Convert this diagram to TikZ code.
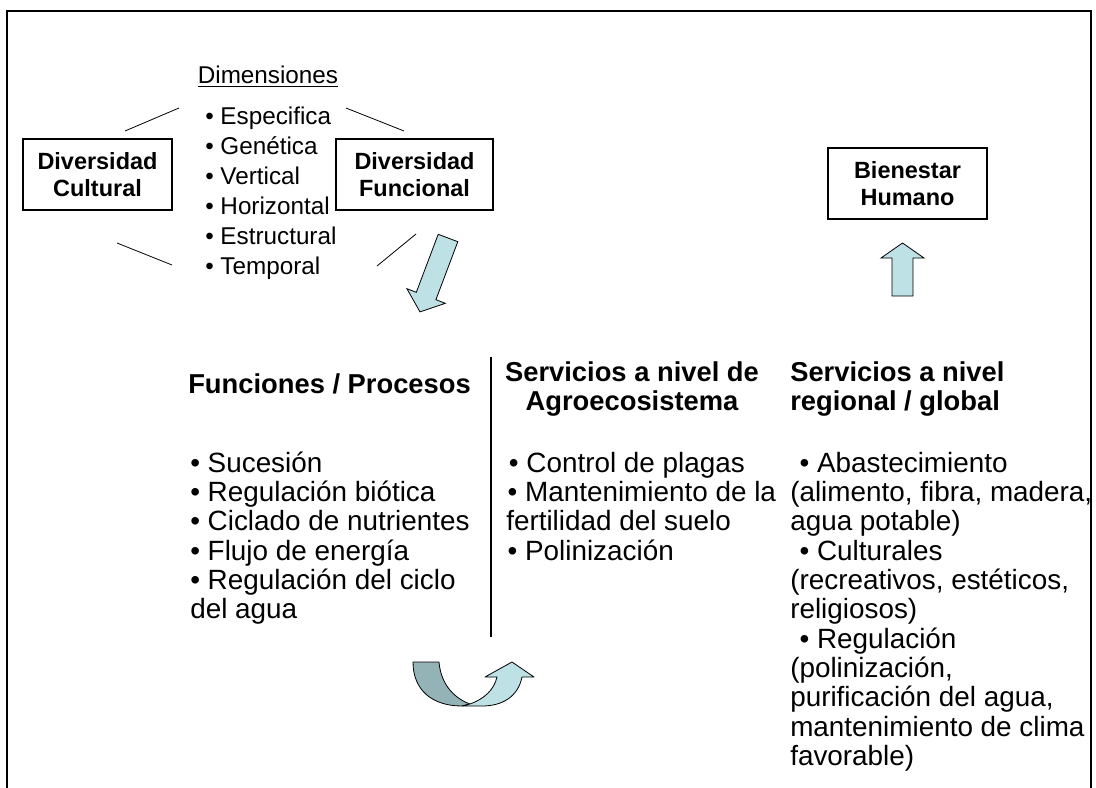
\documentclass[tikz,border=0pt]{standalone}
\usepackage{fontspec}
\setmainfont{Liberation Sans}
\definecolor{arrowlight}{HTML}{BDE1E4}
\definecolor{arrowdark}{HTML}{93B3B7}
\newcommand{\mylines}[2][l]{\begin{tabular}[t]{@{}#1@{}}#2\end{tabular}}
\begin{document}
\begin{tikzpicture}[x=0.75pt,y=-0.75pt,
  boxnode/.style={draw, line width=0.8pt, align=center, inner sep=0pt,
    font=\fontsize{17.6}{20.2}\selectfont\bfseries},
  toptext/.style={inner sep=0pt, font=\fontsize{18.2}{22.5}\selectfont},
  bodytext/.style={inner sep=0pt, font=\fontsize{20.9}{22}\selectfont},
  headtext/.style={inner sep=0pt, font=\fontsize{20.5}{22}\selectfont\bfseries},
  thinline/.style={line width=0.6pt},
  blockarrow/.style={draw, line width=0.6pt, fill=arrowlight, line join=miter}]
\useasboundingbox (0,0) rectangle (1096,788);
% frame
\draw[line width=0.9pt] (7,788) -- (7,11) -- (1091,11) -- (1091,788);

% boxes
\node[boxnode, minimum width=111.75pt, minimum height=53.25pt] (cult) at (97.5,174.5) {Diversidad\\Cultural};
\node[boxnode, minimum width=117.75pt, minimum height=53.25pt] (func) at (414.5,174.5) {Diversidad\\Funcional};
\node[boxnode, minimum width=119.25pt, minimum height=53.25pt] (bien) at (907.5,183.5) {Bienestar\\Humano};

% dimensions
\node[toptext, anchor=base] (dim) at (268,84) {\underline{Dimensiones}};
\node[toptext, anchor=base west] (dimlist) at (205,125) {\mylines{%
  • Especifica\\ • Genética\\ • Vertical\\ • Horizontal\\ • Estructural\\ • Temporal}};

% thin lines
\coordinate (la1) at (125,131); \coordinate (la2) at (179,108);
\coordinate (lb1) at (346,108); \coordinate (lb2) at (404,131);
\coordinate (lc1) at (117,243); \coordinate (lc2) at (172,265);
\coordinate (ld1) at (377,266); \coordinate (ld2) at (416,234);
\draw[thinline] (la1) -- (la2);
\draw[thinline] (lb1) -- (lb2);
\draw[thinline] (lc1) -- (lc2);
\draw[thinline] (ld1) -- (ld2);

% diagonal block arrow
\draw[blockarrow] (438.2,234.3) -- (457.8,241.7) -- (435.9,299.7) -- (445.3,303.3)
  -- (420.0,311.9) -- (406.9,288.7) -- (416.3,292.3) -- cycle;

% up block arrow
\draw[blockarrow] (892,296) -- (892,258) -- (881,258) -- (902.5,243) -- (924,258)
  -- (913,258) -- (913,296) -- cycle;

% columns
\node[headtext, anchor=base west] (h1) at (188,393) {Funciones / Procesos};
\node[bodytext, anchor=base west] (l1) at (190,472) {\mylines{%
  • Sucesión\\ • Regulación biótica\\ • Ciclado de nutrientes\\ • Flujo de energía\\
  • Regulación del ciclo\\ del agua}};

\node[headtext, anchor=base] (h2) at (632,381) {\mylines[c]{Servicios a nivel de\\ Agroecosistema}};
\node[bodytext, anchor=base west] (l2) at (506,472) {\mylines{%
  \hspace{2pt}• Control de plagas\\ \hspace{1pt}• Mantenimiento de la\\ fertilidad del suelo\\
  \hspace{1pt}• Polinización}};

\node[headtext, anchor=base west] (h3) at (790,381) {\mylines{Servicios a nivel\\ regional / global}};
\node[bodytext, anchor=base west] (l3) at (790,472) {\mylines{%
  \hspace{7pt}• Abastecimiento\\ (alimento, fibra, madera,\\ agua potable)\\
  \hspace{7pt}• Culturales\\ (recreativos, estéticos,\\ religiosos)\\
  \hspace{7pt}• Regulación\\ (polinización,\\ purificación del agua,\\
  mantenimiento de clima\\ favorable)}};

% vertical divider
\coordinate (vtop) at (491,357); \coordinate (vbot) at (491,637);
\draw[line width=2.2pt] (vtop) -- (vbot);

% curved arrow
\draw[line width=0.6pt, fill=arrowdark, line join=round]
  (413,662) -- (439,662) .. controls (441,686) and (456,699) .. (470,704)
  -- (462,706) .. controls (432,706) and (413,690) .. (413,662) -- cycle;
\draw[blockarrow, line join=round]
  (470,704) .. controls (484,699) and (494,690) .. (497,677) -- (485,677) -- (512,662)
  -- (534,677) -- (522,677) .. controls (518,697) and (502,706) .. (482,706) -- (462,706) -- cycle;
\end{tikzpicture}
\end{document}
